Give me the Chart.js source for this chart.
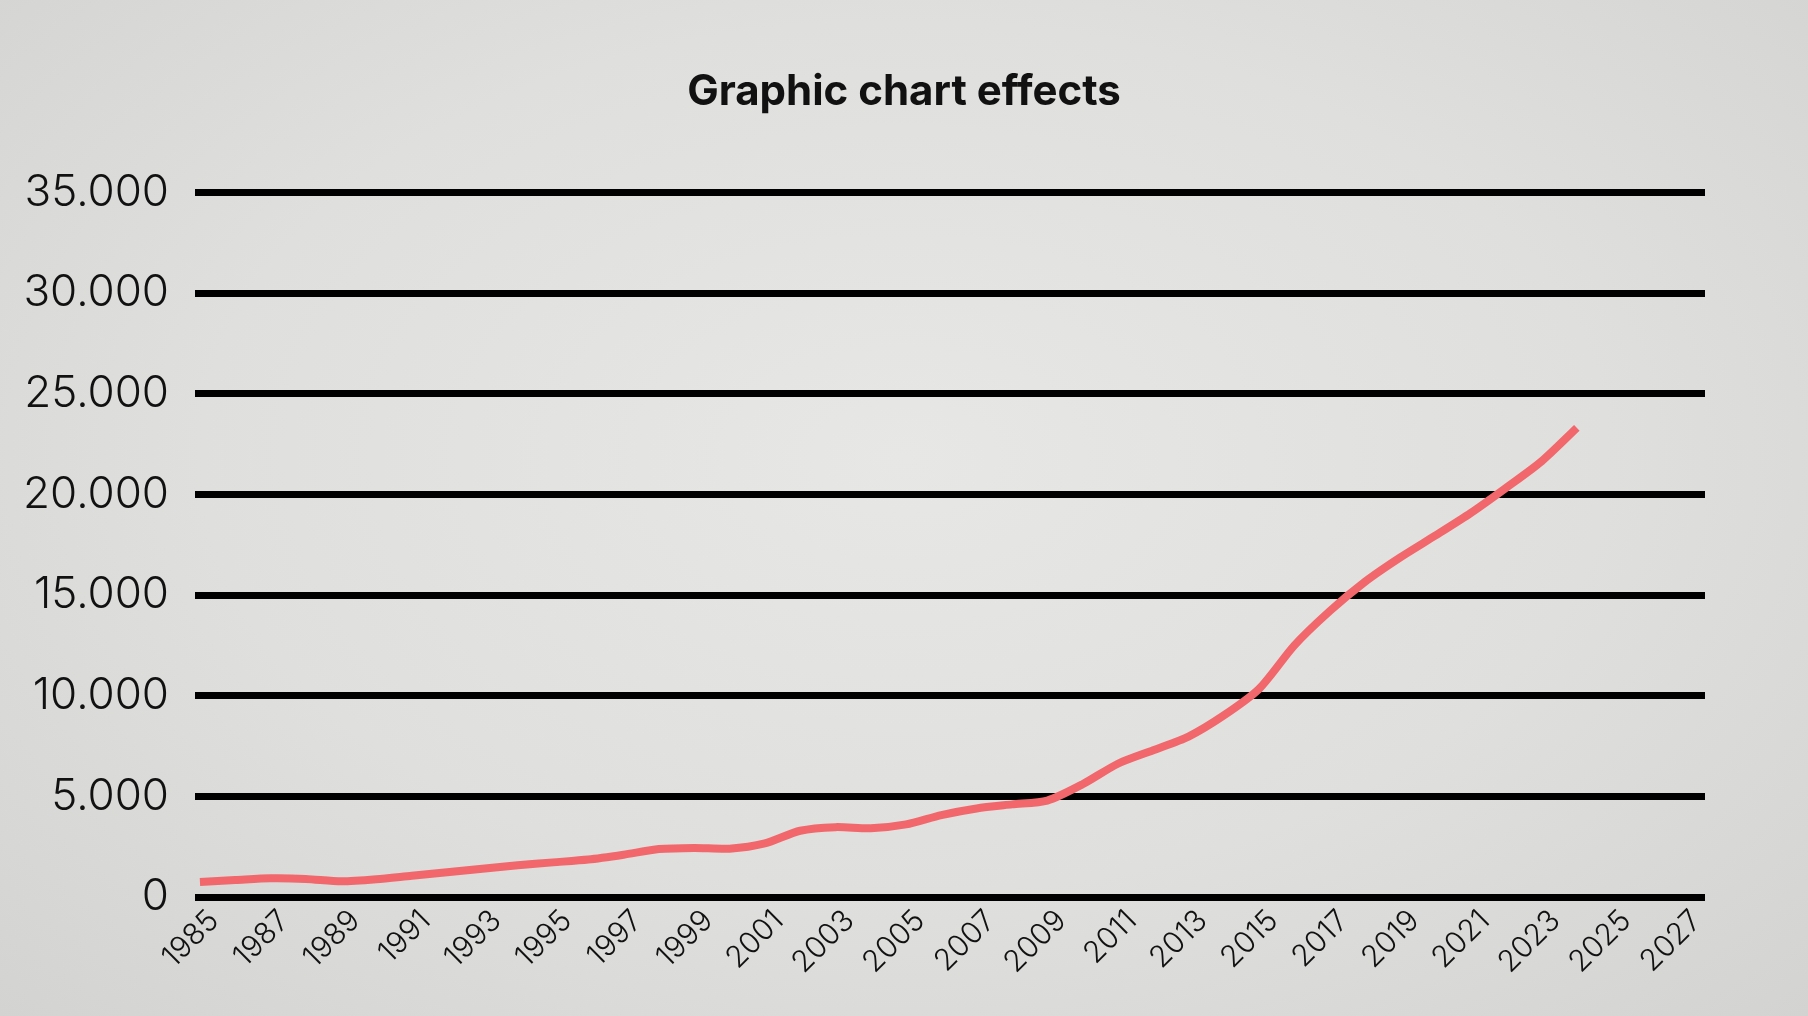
<!DOCTYPE html>
<html>
<head>
<meta charset="utf-8">
<script src="https://cdn.jsdelivr.net/npm/chart.js@4"></script>
<style>
  html, body { margin: 0; padding: 0; }
  body {
    width: 1808px; height: 1016px; overflow: hidden;
    background: radial-gradient(ellipse at 50% 45%, #e7e7e5 0%, #dfdfdd 55%, #d3d3d1 100%);
  }
  #wrap { position: relative; width: 1808px; height: 1016px; }
</style>
</head>
<body>
<div id="wrap"><canvas id="chart"></canvas></div>
<script>
const years = [1985, 1986, 1987, 1988, 1989, 1990, 1991, 1992, 1993, 1994,
               1995, 1996, 1997, 1998, 1999, 2000, 2001, 2002, 2003, 2004,
               2005, 2006, 2007, 2008, 2009, 2010, 2011, 2012, 2013, 2014,
               2015, 2016, 2017, 2018, 2019, 2020, 2021, 2022, 2023, 2024];
const values = [750, 840, 930, 900, 780, 880, 1060, 1230, 1400, 1580,
                1720, 1860, 2100, 2380, 2440, 2400, 2660, 3290, 3470, 3420,
                3610, 4070, 4400, 4600, 4790, 5600, 6620, 7290, 7970, 9020,
                10340, 12500, 14200, 15660, 16870, 17960, 19080, 20330, 21640, 23300];
const tickYears = [1985, 1987, 1989, 1991, 1993, 1995, 1997, 1999, 2001, 2003, 2005,
                   2007, 2009, 2011, 2013, 2015, 2017, 2019, 2021, 2023, 2025, 2027];
const yTicks = [0, 5000, 10000, 15000, 20000, 25000, 30000, 35000];

function dotted(v) {
  return String(v).replace(/\B(?=(\d{3})+(?!\d))/g, '.');
}

const ctx = document.getElementById('chart').getContext('2d');

const myChart = new Chart(ctx, {
  type: 'line',
  data: {
    datasets: [{
      label: 'Value',
      data: years.map((y, i) => ({ x: y, y: values[i] })),
      borderColor: '#f2676b',
      borderWidth: 8,
      borderCapStyle: 'butt',
      borderJoinStyle: 'round',
      pointRadius: 0,
      tension: 0.25,
      fill: false
    }]
  },
  options: {
    responsive: true,
    maintainAspectRatio: false,
    animation: false,
    layout: { padding: 0 },
    plugins: {
      legend: { display: false },
      tooltip: { enabled: false },
      title: {
        display: true,
        text: 'Graphic chart effects',
        color: '#111',
        font: { family: 'Inter', size: 42, weight: 'bold' },
        padding: { top: 67, bottom: 75 }
      }
    },
    scales: {
      x: {
        type: 'linear',
        min: 1984.86,
        max: 2027.63,
        afterBuildTicks: scale => { scale.ticks = tickYears.map(v => ({ value: v })); },
        afterFit: scale => { scale.height = 119; },
        grid: { display: false },
        border: { display: false },
        ticks: {
          autoSkip: false,
          minRotation: 45,
          maxRotation: 45,
          labelOffset: 14,
          padding: -2,
          color: '#111',
          font: { family: 'Inter', size: 30, weight: 300 },
          callback: v => String(v)
        }
      },
      y: {
        min: 0,
        max: 35000,
        afterBuildTicks: scale => { scale.ticks = yTicks.map(v => ({ value: v })); },
        afterFit: scale => { scale.width = 195; },
        grid: { color: '#000', lineWidth: 7, drawTicks: false },
        border: { display: false },
        ticks: {
          padding: 26,
          color: '#111',
          font: { family: 'Inter', size: 44, weight: 300 },
          callback: v => dotted(v)
        }
      },
      // empty right-hand axis, only keeps space on the right
      yRight: {
        position: 'right',
        min: 0,
        max: 35000,
        afterFit: scale => { scale.width = 103; },
        grid: { display: false },
        border: { display: false },
        ticks: { display: false }
      }
    }
  }
});
</script>
</body>
</html>
